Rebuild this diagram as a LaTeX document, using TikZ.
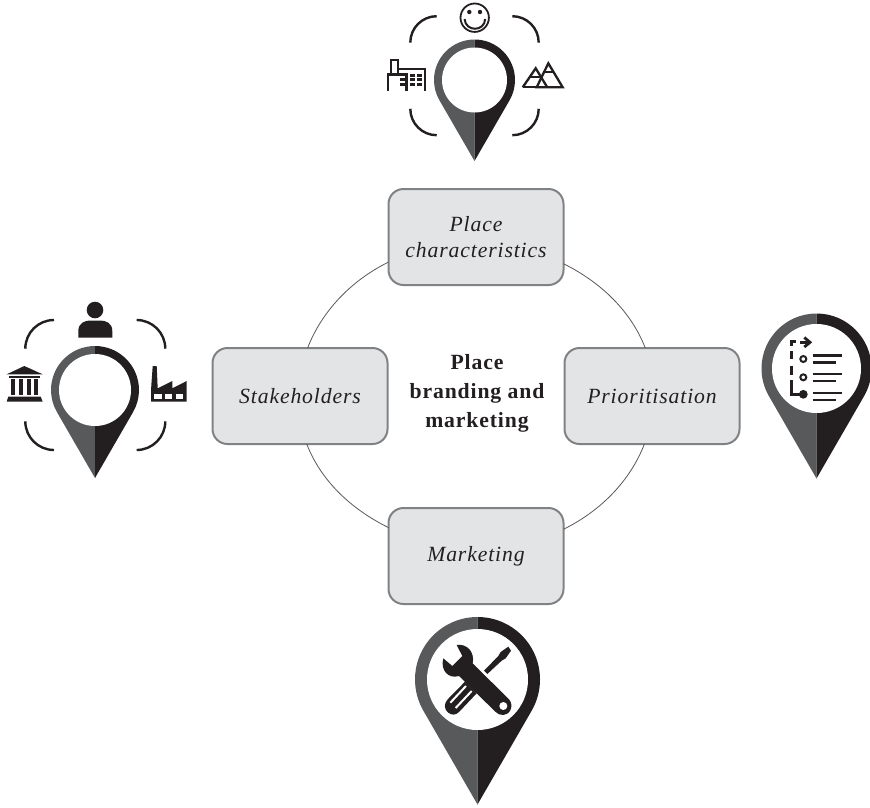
\documentclass[tikz,border=0pt]{standalone}
\usepackage{fontspec}
\setmainfont{Liberation Serif}
\newfontfamily\boxfont[LetterSpace=4]{Liberation Serif}
\definecolor{pinL}{HTML}{58595B}
\definecolor{pinD}{HTML}{231F20}
\definecolor{boxF}{HTML}{E3E4E6}
\definecolor{boxB}{HTML}{808285}
\tikzset{
  placebox/.style={draw=boxB,fill=boxF,line width=2pt,rounded corners=15pt,minimum width=175pt,minimum height=96pt,inner sep=0pt,outer sep=0pt,align=center,text=pinD,font=\boxfont\itshape\fontsize{21.7}{26}\selectfont},
  centretext/.style={align=center,text=pinD,inner sep=0pt,font=\boxfont\bfseries\fontsize{21.7}{29}\selectfont},
  ringline/.style={draw=pinD!75,line width=0.8pt},
  iconline/.style={draw=pinD,line width=2.3pt},
  listline/.style={draw=pinD,line width=2.8pt},
  bracketline/.style={draw=pinD,line width=2.4pt}
}
\newcommand{\mappin}[4]{% cx cy R r
  \fill[pinL] (#1,#2-#3) arc[start angle=270,end angle=150,radius=#3] -- (#1,#2+2*#3) -- cycle;
  \fill[pinD] (#1,#2-#3) arc[start angle=-90,end angle=30,radius=#3] -- (#1,#2+2*#3) -- cycle;
  \fill[white] (#1,#2) circle[radius=#4];
}
\newcommand{\fourbrackets}[5]{% cx cy hw hh r
  \draw[bracketline] (#1-#3,#2-#4+#5) arc[start angle=180,end angle=270,radius=#5];
  \draw[bracketline] (#1+#3,#2-#4+#5) arc[start angle=0,end angle=-90,radius=#5];
  \draw[bracketline] (#1-#3,#2+#4-#5) arc[start angle=180,end angle=90,radius=#5];
  \draw[bracketline] (#1+#3,#2+#4-#5) arc[start angle=0,end angle=90,radius=#5];
}
\begin{document}
\begin{tikzpicture}[x=1pt,y=1pt,yscale=-1]
\useasboundingbox (0,0) rectangle (870,807);

% boxes
\node[placebox] (pc) at (476,237) {Place\\characteristics};
\node[placebox] (st) at (300,396) {Stakeholders};
\node[placebox] (pr) at (652,396) {Prioritisation};
\node[placebox] (mk) at (476,556) {Marketing};
\node[centretext] (ct) at (477,393.5) {Place\\branding and\\marketing};

% ring
\draw[ringline] (pc.196.5) .. controls +(-38.2,18.8) and +(13.9,-36) .. (st.81.8);
\draw[ringline] (pc.343.5) .. controls +(38.2,18.8) and +(-13.9,-36) .. (pr.98.2);
\draw[ringline] (st.278.2) .. controls +(13.9,36) and +(-38.2,-18.8) .. (mk.162.6);
\draw[ringline] (pr.261.8) .. controls +(-13.9,36) and +(38.2,-18.8) .. (mk.17.4);

% top pin
\mappin{474.5}{80}{40.5}{32.5}
\fourbrackets{474.5}{75.7}{64.2}{59.5}{26.4}
\draw[draw=pinD,line width=1.8pt] (474.7,17.7) circle[radius=14.2];
\fill[pinD] (469.3,12) circle[radius=2.2] (480,12) circle[radius=2.2];
\draw[draw=pinD,line width=2pt] (464.6,19) .. controls (465.5,32) and (484.5,32) .. (485.2,19);
% building
\draw[iconline,line join=miter] (387.7,90.7) -- (387.7,74.5) -- (391,74.5) -- (391,60) -- (398,60) -- (398,74.5);
\draw[iconline] (391,74.5) -- (406.5,74.5) -- (406.5,90.7);
\draw[iconline] (398,69.3) -- (425,69.3) -- (425,90.7);
\foreach \ya/\yb in {78.3/81.3,82.7/85.7}
  \fill[pinD] (400,\ya) rectangle (405,\yb);
\foreach \ya/\yb in {73.7/76.7,78.3/81.3,82.7/85.7}{
  \fill[pinD] (410,\ya) rectangle (415,\yb);
  \fill[pinD] (416.7,\ya) rectangle (421.7,\yb);
}
% mountains
\draw[iconline,line join=miter] (522.7,87.3) -- (535.7,68.3) -- (547.3,87.3);
\draw[iconline,line join=miter] (536.7,87.3) -- (548.3,63.3) -- (562.7,87.3) -- cycle;
\draw[iconline] (522.7,87.3) -- (536.7,87.3);
\draw[iconline] (529.3,77.3) -- (541,77.3);
\draw[iconline] (542.7,71.7) -- (554,71.7);

% left pin
\mappin{95}{390}{44}{36}
\fourbrackets{95.3}{385}{70}{65}{28.7}
\fill[pinD] (95,310) circle[radius=8.3];
\fill[pinD] (78.3,337.7) -- (78.3,331) .. controls (78.3,323) and (85,320.5) .. (90,320.5) -- (100,320.5) .. controls (106,320.5) and (112.3,323) .. (112.3,331) -- (112.3,337.7) -- cycle;
% temple
\fill[pinD] (24.3,366) -- (42.7,374.3) -- (6.7,374.3) -- cycle;
\fill[pinD] (9.3,375.7) rectangle (40,377.7);
\foreach \xa in {11,18.8,26.5,34.2}
  \fill[pinD] (\xa,378.7) rectangle (\xa+4,395);
\fill[pinD] (8.3,396.7) -- (40.7,396.7) -- (42.7,401.7) -- (6.7,401.7) -- cycle;
% factory
\fill[pinD] (151,401.7) -- (151,390) -- (152.7,366) -- (156.7,366) -- (157.7,388.3) -- (172.3,381) -- (172.3,388.3) -- (186.7,381) -- (186.7,401.7) -- cycle;
\foreach \xa/\xb in {154/161.7,165/172.3,176/183.3}
  \fill[white] (\xa,394) rectangle (\xb,399);

% right pin
\mappin{816.5}{368.5}{55}{44.5}
\draw[listline] (795.5,341.3) -- (791.7,341.3) -- (791.7,345.5);
\draw[listline] (791.7,351) -- (791.7,358.5);
\draw[listline] (791.7,365.7) -- (791.7,375);
\draw[listline] (791.7,380) -- (791.7,394.3) -- (803.3,394.3);
\draw[listline] (800,342.3) -- (809,342.3);
\draw[listline] (804.3,337.5) -- (810,342.3) -- (804.3,347);
\draw[draw=pinD,line width=2pt] (803.3,359) circle[radius=3] (803.3,377.3) circle[radius=3];
\fill[pinD] (803.3,394.3) circle[radius=4.4];
\foreach \ya/\yb in {355.3/362.3,374/381,393/400}{
  \draw[listline] (812.7,\ya) -- (841.7,\ya);
  \draw[listline] (812.7,\yb) -- (835.7,\yb);
}

% bottom pin
\mappin{477.5}{679.5}{62.5}{50.5}
\begin{scope}[shift={(435,640)},scale=1/3]
  % screwdriver blade
  \fill[pinD] (147,92) -- (190,48) -- (197,36) -- (220,20) -- (228,32) -- (212,55) -- (200,62) -- (157,102) -- cycle;
  % screwdriver handle
  \fill[pinD] (90,125) -- (38,178) .. controls (25,192) and (28,210) .. (40,218)
     .. controls (50,226) and (62,226) .. (72,216) -- (125,160) -- cycle;
  \draw[draw=white,line width=2pt] (46,188) -- (93,138);
  \draw[draw=white,line width=2pt] (62,204) -- (110,153);
  % wrench
  \fill[pinD] (65,15) .. controls (95,10) and (120,35) .. (113,70)
     -- (222,178) .. controls (238,196) and (225,225) .. (205,225)
     .. controls (195,225) and (188,222) .. (182,216)
     -- (72,108) .. controls (40,118) and (15,90) .. (25,55)
     -- (52,78) -- (82,48) -- cycle;
  \fill[white] (205,198) circle[radius=12];
\end{scope}
\end{tikzpicture}
\end{document}
